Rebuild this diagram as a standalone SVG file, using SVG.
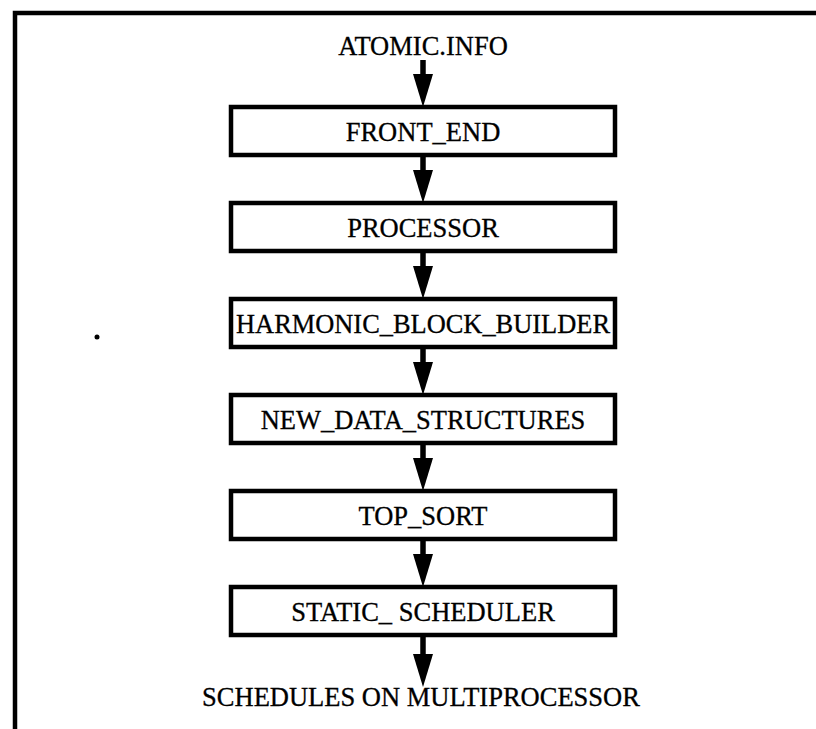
<svg xmlns="http://www.w3.org/2000/svg" xmlns:xlink="http://www.w3.org/1999/xlink" width="816" height="729" viewBox="0 0 816 729">
<style>
.box{fill:#fff;stroke:#000;stroke-width:4.5}
.lbl{font-family:"Liberation Serif","Times New Roman",serif;font-size:26.5px;fill:#000;stroke:#000;stroke-width:0.3;text-anchor:middle}
.shaft{stroke:#000;stroke-width:5.5;fill:none}
.frame{stroke:#000;stroke-width:4.5;fill:none}
</style>
<defs>
<polygon id="ah" points="-10,-33 10,-33 0,0" fill="#000"/>
</defs>
<rect width="816" height="729" fill="#fff"/>
<path class="frame" d="M15,729 V13 H816"/>
<circle cx="97" cy="337" r="2.5" fill="#000"/>
<g id="connectors">
<line class="shaft" x1="423" y1="60" x2="423" y2="76"/><use xlink:href="#ah" x="423" y="107"/>
<line class="shaft" x1="423" y1="155" x2="423" y2="172"/><use xlink:href="#ah" x="423" y="203"/>
<line class="shaft" x1="423" y1="251" x2="423" y2="268"/><use xlink:href="#ah" x="423" y="299"/>
<line class="shaft" x1="423" y1="347" x2="423" y2="364"/><use xlink:href="#ah" x="423" y="395"/>
<line class="shaft" x1="423" y1="443" x2="423" y2="460"/><use xlink:href="#ah" x="423" y="491"/>
<line class="shaft" x1="423" y1="539" x2="423" y2="556"/><use xlink:href="#ah" x="423" y="587"/>
<line class="shaft" x1="423" y1="635" x2="423" y2="656"/><use xlink:href="#ah" x="423" y="687"/>
</g>
<g id="input"><text class="lbl" x="423" y="55">ATOMIC.INFO</text></g>
<g id="front_end"><rect class="box" x="231" y="107" width="384" height="48"/><text class="lbl" x="423" y="141">FRONT_END</text></g>
<g id="processor"><rect class="box" x="231" y="203" width="384" height="48"/><text class="lbl" x="423" y="237">PROCESSOR</text></g>
<g id="harmonic"><rect class="box" x="231" y="299" width="384" height="48"/><text class="lbl" x="423" y="333" textLength="374" lengthAdjust="spacingAndGlyphs">HARMONIC_BLOCK_BUILDER</text></g>
<g id="new_data"><rect class="box" x="231" y="395" width="384" height="48"/><text class="lbl" x="423" y="429">NEW_DATA_STRUCTURES</text></g>
<g id="top_sort"><rect class="box" x="231" y="491" width="384" height="48"/><text class="lbl" x="423" y="525">TOP_SORT</text></g>
<g id="static_scheduler"><rect class="box" x="231" y="587" width="384" height="48"/><text class="lbl" x="423" y="621">STATIC_ SCHEDULER</text></g>
<g id="output"><text class="lbl" x="421" y="706">SCHEDULES ON MULTIPROCESSOR</text></g>
</svg>
